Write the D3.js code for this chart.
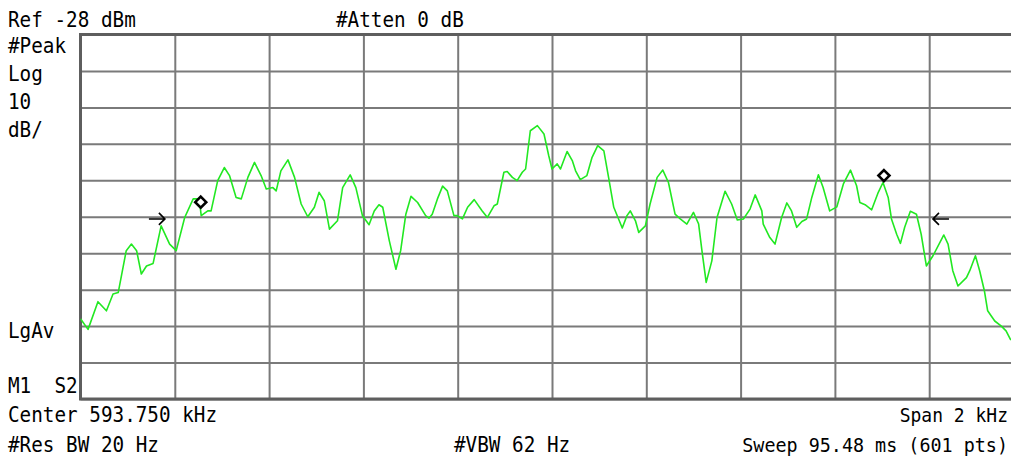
<!DOCTYPE html>
<html><head><meta charset="utf-8">
<script src="https://cdn.jsdelivr.net/npm/d3@7"></script>
<style>html,body{margin:0;padding:0;background:#fff;}svg{display:block;}</style>
</head><body>
<svg id="chart" width="1011" height="462"></svg>
<script>
// ---- data ----
const centerKHz = 593.750;
const spanHz = 2000;
const refDbm = -28;
const dbPerDiv = 10;
const divisions = 10;

// trace: frequency offset from center (Hz) and level (dBm)
const freqOffsetHz = [-1000,-984,-963,-945,-931,-920,-903,-892,-881,-871,-860,-846,-829,-811,-797,-779,-761,-748,-744,-730,-723,-709,-695,-684,-670,-659,-645,-631,-617,-606,-592,-585,-575,-560,-546,-532,-518,-504,-494,-483,-472,-455,-444,-428,-416,-402,-388,-377,-367,-359,-345,-331,-321,-310,-299,-285,-268,-261,-254,-243,-232,-222,-208,-201,-190,-179,-165,-148,-137,-123,-116,-102,-95,-84,-74,-63,-56,-46,-31,-17,-7,0,11,18,32,43,50,60,74,85,97,110,120,131,149,159,166,177,184,198,208,223,235,247,261,272,286,300,311,318,327,339,350,367,381,393,406,420,431,445,448,462,473,487,498,508,519,530,540,551,565,575,589,604,618,633,646,653,664,678,692,702,713,720,731,739,748,760,773,783,794,808,831,840,850,861,879,886,898,907,917,924,939,953,963,972,987,1000];
const levelDbm = [-106.0,-108.9,-101.3,-103.8,-99.2,-98.8,-87.3,-85.5,-87.3,-93.7,-91.5,-90.8,-80.5,-85.5,-87.3,-78.2,-73.1,-73.1,-77.7,-76.4,-76.4,-68.1,-64.5,-66.7,-72.7,-73.1,-67.2,-63.1,-66.7,-70.4,-70.0,-70.9,-65.4,-62.4,-67.2,-74.5,-78.0,-75.4,-71.3,-73.6,-81.4,-79.1,-70.0,-66.5,-70.0,-77.7,-80.2,-76.4,-74.7,-75.4,-84.6,-92.4,-87.3,-77.3,-72.4,-74.1,-77.7,-78.4,-77.3,-73.1,-69.6,-70.9,-77.7,-77.7,-78.6,-75.4,-73.3,-76.4,-78.2,-75.0,-74.5,-65.8,-65.6,-67.2,-68.1,-65.8,-64.9,-54.4,-53.0,-55.3,-61.2,-64.9,-63.5,-64.9,-60.1,-62.6,-65.4,-67.8,-66.7,-61.7,-58.5,-59.9,-67.2,-75.4,-81.1,-77.7,-76.4,-79.1,-82.3,-80.5,-74.5,-67.2,-65.2,-68.6,-77.3,-78.6,-80.0,-76.8,-80.0,-87.3,-96.0,-90.1,-78.2,-71.0,-74.5,-78.9,-78.6,-75.9,-72.0,-76.4,-80.0,-83.7,-85.5,-78.2,-74.2,-76.4,-80.9,-79.3,-78.6,-72.7,-66.5,-70.0,-76.4,-75.3,-69.0,-65.2,-69.5,-74.1,-74.7,-76.1,-71.3,-68.6,-72.7,-78.6,-82.8,-85.3,-80.9,-76.5,-77.3,-82.8,-91.5,-88.7,-83.0,-85.5,-92.8,-97.0,-94.7,-92.8,-88.7,-92.8,-98.3,-103.8,-106.6,-108.0,-109.3,-111.6,-112.6,-113.4];

// markers (diamonds) and band arrows
const markerHz = [-745, 704];
const markerDbm = [-74.0, -66.7];
const arrowHz = [-821, 808];
const arrowDir = [1, -1];
const arrowDbm = [-78.6, -78.6];

// annotation texts
const topTexts = ["Ref -28 dBm", "#Atten 0 dB"];
const leftTexts = ["#Peak", "Log", "10", "dB/", "LgAv", "M1  S2"];
const bottomLeftTexts = ["Center 593.750 kHz", "#Res BW 20 Hz"];
const bottomRightTexts = ["Span 2 kHz", "Sweep 95.48 ms (601 pts)"];
const bottomMidTexts = ["#VBW 62 Hz"];

// ---- layout ----
const svg = d3.select("#chart");
svg.append("rect").attr("width",1011).attr("height",462).attr("fill","#fff");
const plot = {left:80.5, right:1023.5, top:34.5, bottom:399};

const x = d3.scaleLinear().domain([-spanHz/2, spanHz/2]).range([plot.left, plot.right]);
const y = d3.scaleLinear().domain([refDbm - dbPerDiv*divisions, refDbm]).range([plot.bottom, plot.top]);

const xTicks = d3.range(-spanHz/2, spanHz/2 + 1, spanHz/divisions);
const yTicks = d3.range(refDbm - dbPerDiv*divisions, refDbm + 1, dbPerDiv);

// grid via axes
const gx = svg.append("g").attr("transform", `translate(0,${plot.bottom})`)
  .call(d3.axisBottom(x).tickValues(xTicks).tickSize(-(plot.bottom-plot.top)).tickFormat(""));
const gy = svg.append("g").attr("transform", `translate(${plot.left},0)`)
  .call(d3.axisLeft(y).tickValues(yTicks).tickSize(-(plot.right-plot.left)).tickFormat(""));
[gx, gy].forEach(g => {
  g.select(".domain").remove();
  g.selectAll(".tick line").attr("stroke","#7a7a7a").attr("stroke-width",2);
});
// frame
svg.append("rect").attr("x",plot.left).attr("y",plot.top)
  .attr("width",plot.right-plot.left).attr("height",plot.bottom-plot.top)
  .attr("fill","none").attr("stroke","#5e5e5e").attr("stroke-width",3);

// trace
const pts = freqOffsetHz.map((f,i)=>[f, levelDbm[i]]);
svg.append("clipPath").attr("id","clip").append("rect")
  .attr("x",plot.left).attr("y",plot.top).attr("width",plot.right-plot.left).attr("height",plot.bottom-plot.top);
svg.append("path").datum(pts)
  .attr("clip-path","url(#clip)")
  .attr("fill","none").attr("stroke","#22e822").attr("stroke-width",1.6)
  .attr("stroke-linejoin","round")
  .attr("d", d3.line().x(d=>x(d[0])).y(d=>y(d[1])));

// diamonds
markerHz.forEach((f,i)=>{
  const cx = x(f), cy = y(markerDbm[i]), r = 5.5;
  svg.append("path")
    .attr("d", `M${cx},${cy-r}L${cx+r},${cy}L${cx},${cy+r}L${cx-r},${cy}Z`)
    .attr("fill","#fff").attr("stroke","#000").attr("stroke-width",2.6);
});

// arrows
arrowHz.forEach((f,i)=>{
  const tx = x(f), ty = y(arrowDbm[i]), d = arrowDir[i];
  const len = 16, h = 6;
  svg.append("path")
    .attr("d", `M${tx - d*len},${ty}L${tx},${ty}M${tx - d*h},${ty-h}L${tx},${ty}L${tx - d*h},${ty+h}`)
    .attr("fill","none").attr("stroke","#000").attr("stroke-width",1.6);
});

// texts
const font = "'DejaVu Sans Mono', monospace";
function label(t, tx, ty, size, anchor){
  svg.append("text").text(t)
    .attr("transform", `translate(${tx},${ty}) scale(1,1.08)`)
    .attr("font-family", font).attr("font-size", size || 19.3)
    .attr("fill","#000").attr("text-anchor", anchor || "start")
    .style("white-space","pre").attr("xml:space","preserve");
}
label(topTexts[0], 8, 27);
label(topTexts[1], 336, 27);
const leftY = [53, 81, 109, 137, 338, 393];
leftTexts.forEach((t,i)=>label(t, 8, leftY[i]));
label(bottomLeftTexts[0], 8, 422);
label(bottomLeftTexts[1], 8, 452);
label(bottomMidTexts[0], 454, 452);
label(bottomRightTexts[0], 1008, 422, 18, "end");
label(bottomRightTexts[1], 1008, 452, 18.4, "end");
</script>
</body></html>
